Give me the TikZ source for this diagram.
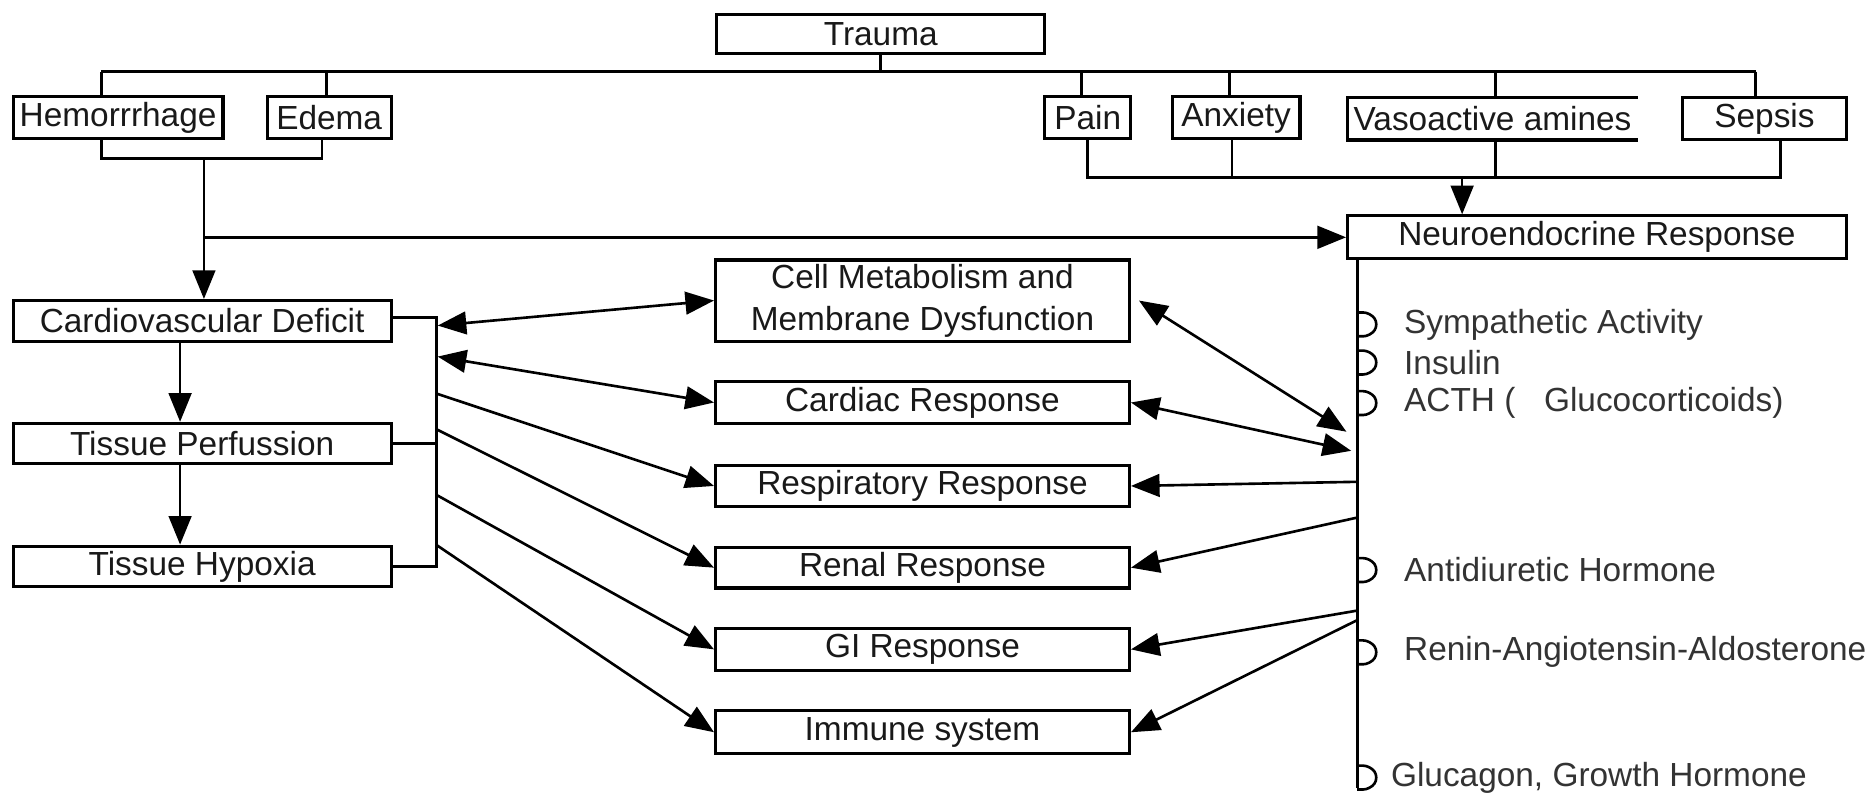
\documentclass[tikz,border=0pt]{standalone}
\usepackage{fontspec}
\setmainfont{Liberation Sans}
\usetikzlibrary{arrows.meta}
\begin{document}
\begin{tikzpicture}[x=0.5pt,y=-0.5pt,
  txt/.style={font=\fontsize{14}{17.5}\selectfont},
  box/.style={draw, line width=1.3pt, inner sep=0pt, txt, text=black!90},
  conn/.style={line width=1.1pt},
  tip/.tip={Triangle[length=12pt,width=9.5pt]},
  arr/.style={conn, -tip},
  darr/.style={conn, tip-tip},
  hook/.style={line width=1.1pt, rounded corners=3pt},
  lbl/.style={anchor=west, inner sep=0pt, txt, text=black!80}]
\useasboundingbox (0,0) rectangle (1568,667);
\fill[white] (0,0) rectangle (1568,667);

% top row
\node[box, minimum width=137.5pt, minimum height=16.5pt] (trauma) at (738.5,28.5) {Trauma};
\node[box, minimum width=88pt, minimum height=17.5pt] (hem) at (99,98.5) {Hemorrrhage};
\node[box, minimum width=52pt, minimum height=17.5pt] (edema) at (276,98.5) {Edema};
\node[box, minimum width=36pt, minimum height=17.5pt] (pain) at (912,98.5) {Pain};
\node[box, minimum width=53.5pt, minimum height=17.5pt] (anx) at (1036.5,98.5) {Anxiety};
\node[inner sep=0pt, txt, text=black!90, minimum width=121.5pt, minimum height=17.5pt] (vaso) at (1251.5,99.5) {Vasoactive amines};
\draw[line width=1.3pt] (vaso.north east) -- (vaso.north west) -- (vaso.south west) -- (vaso.south east);
\node[box, minimum width=68.5pt, minimum height=17.5pt] (sepsis) at (1479.5,99.5) {Sepsis};
\node[box, minimum width=209pt, minimum height=18pt] (neuro) at (1339,199) {Neuroendocrine Response};

% left column
\node[box, minimum width=158.5pt, minimum height=17pt] (cd) at (169.5,269) {Cardiovascular Deficit};
\node[box, minimum width=158.5pt, minimum height=17pt] (tp) at (169.5,372) {Tissue Perfussion};
\node[box, minimum width=158.5pt, minimum height=17pt] (th) at (169.5,475) {Tissue Hypoxia};

% middle column
\node[box, align=center, minimum width=173.5pt, minimum height=34pt] (cm) at (773.5,252) {Cell Metabolism and\\Membrane Dysfunction};
\node[box, minimum width=173.5pt, minimum height=17.5pt] (card) at (773.5,337.5) {Cardiac Response};
\node[box, minimum width=173.5pt, minimum height=17.5pt] (resp) at (773.5,407.5) {Respiratory Response};
\node[box, minimum width=173.5pt, minimum height=17pt] (renal) at (773.5,476) {Renal Response};
\node[box, minimum width=173.5pt, minimum height=17.5pt] (gi) at (773.5,544.5) {GI Response};
\node[box, minimum width=173.5pt, minimum height=18pt] (imm) at (773.5,614) {Immune system};

% trauma tree
\coordinate (tj) at (738.5,60);
\draw[conn] (trauma.south) -- (tj);
\draw[conn] (85,60) -- (1472,60);
\draw[conn] (85,60) -- (85,0 |- hem.north);
\draw[conn] (274,60) -- (274,0 |- edema.north);
\draw[conn] (907,60) -- (907,0 |- pain.north);
\draw[conn] (1031,60) -- (1031,0 |- anx.north);
\draw[conn] (1254,60) -- (1254,0 |- vaso.north);
\draw[conn] (1472,60) -- (1472,0 |- sepsis.north);

% hemorrhage/edema bracket
\coordinate (hb) at (171,133);
\draw[conn] (85,0 |- hem.south) -- (85,133) -- (270,133) -- (270,0 |- edema.south);
\draw[arr] (hb) -- (hb |- cd.north);
\coordinate (hn) at (171,199);
\draw[arr] (hn) -- (neuro.west);

% pain... bracket
\draw[conn] (912,0 |- pain.south) -- (912,149) -- (1493,149) -- (1493,0 |- sepsis.south);
\draw[conn] (1033,0 |- anx.south) -- (1033,149);
\draw[conn] (1254,0 |- vaso.south) -- (1254,149);
\coordinate (pb) at (1226,149);
\draw[arr] (pb) -- (pb |- neuro.north);

% left chain
\draw[arr] (151,0 |- cd.south) -- (151,0 |- tp.north);
\draw[arr] (151,0 |- tp.south) -- (151,0 |- th.north);
\draw[conn] (cd.east |- 0,266) -- (366,266) -- (366,475) -- (th.east);
\draw[conn] (tp.east) -- (366,0 |- tp.east);

% left arrows
\coordinate (l1) at (367,273);
\coordinate (l2) at (367,299);
\coordinate (l3) at (366,330);
\coordinate (l4) at (366,360);
\coordinate (l5) at (366,415);
\coordinate (l6) at (366,457);
\draw[darr] (l1) -- (cm.west);
\draw[darr] (l2) -- (card.west);
\draw[arr] (l3) -- (resp.west);
\draw[arr] (l4) -- (renal.west);
\draw[arr] (l5) -- (gi.west);
\draw[arr] (l6) -- (imm.west);

% neuro line
\draw[conn] (1138,0 |- neuro.south) -- (1138,661);
\coordinate (r1a) at (955,252);
\coordinate (r1b) at (1129,362);
\coordinate (r2) at (1133,378);
\coordinate (r3) at (1138,404);
\coordinate (r4) at (1138,434);
\coordinate (r5) at (1138,512);
\coordinate (r6) at (1138,520);
\draw[darr] (r1a) -- (r1b);
\draw[darr] (card.east) -- (r2);
\draw[arr] (r3) -- (resp.east);
\draw[arr] (r4) -- (renal.east);
\draw[arr] (r5) -- (gi.east);
\draw[arr] (r6) -- (imm.east);

% hooks
\foreach \yy in {272,304,338,478,547,652}{
  \draw[hook] (1138,\yy-10) -- (1149,\yy-10) -- (1156,\yy) -- (1149,\yy+10) -- (1138,\yy+10);
}

% labels
\node[lbl] (s1) at (1177,272) {Sympathetic Activity};
\node[lbl] (s2) at (1177,304) {Insulin};
\node[lbl] (s3) at (1177,338) {ACTH (\hspace{12pt}Glucocorticoids)};
\node[lbl] (s4) at (1177,478) {Antidiuretic Hormone};
\node[lbl] (s5) at (1177,547) {Renin-Angiotensin-Aldosterone};
\node[lbl] (s6) at (1166,652) {Glucagon, Growth Hormone};
\end{tikzpicture}
\end{document}
